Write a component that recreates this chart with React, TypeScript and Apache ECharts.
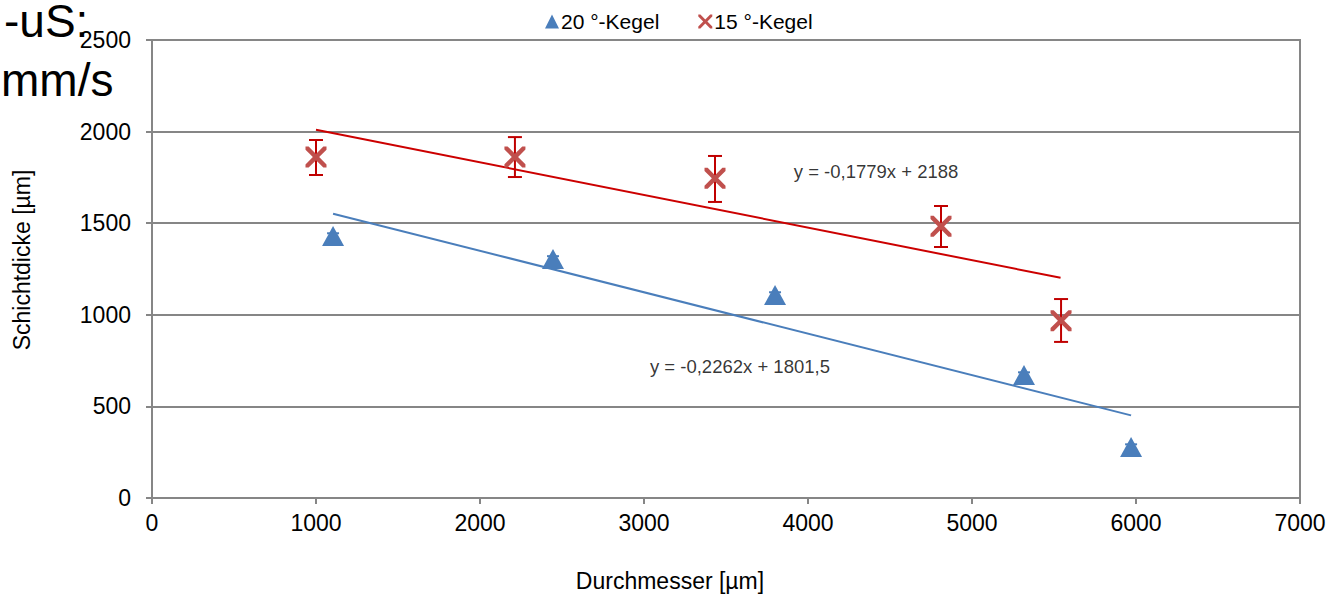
import React, { useEffect, useRef } from "react";
import * as echarts from "echarts";

const blueName = "20 °-Kegel";
const redName = "15 °-Kegel";

const blueX = [1104, 2445, 3799, 5317, 5970];
const blueY = [1430, 1305, 1108, 671, 278];
const blueErr = [15, 15, 15, 15, 15];

const redX = [1000, 2213, 3433, 4811, 5543];
const redY = [1861, 1862, 1745, 1483, 968];
const redLo = [1763, 1752, 1616, 1370, 852];
const redHi = [1954, 1970, 1867, 1594, 1086];

const blueTrend = [[1104, 1552], [5970, 451]];
const redTrend = [[1000, 2010], [5540, 1202]];

const blueEq = "y = -0,2262x + 1801,5";
const redEq = "y = -0,1779x + 2188";
const blueEqPos = [3585, 720];
const redEqPos = [4415, 1780];

const xTicks = [0, 7000, 1000];
const yTicks = [0, 2500, 500];

const BLUE = "#4A7EBB";
const RED = "#C0504D";
const RED_ERR = "#C00000";
const GRID = "#868686";
const FONT = "'Liberation Sans', Arial, sans-serif";
const XPATH =
  "path://M0,0 L3,0 L10,7 L17,0 L20,0 L20,3 L13,10 L20,17 L20,20 L17,20 L10,13 L3,20 L0,20 L0,17 L7,10 L0,3 Z";

function errRender(color: string, cap: number) {
  return (params: any, api: any) => {
    const x = api.value(0);
    const lo = api.coord([x, api.value(1)]);
    const hi = api.coord([x, api.value(2)]);
    const st = { stroke: color, lineWidth: 2 };
    return {
      type: "group",
      children: [
        { type: "line", shape: { x1: lo[0], y1: lo[1], x2: hi[0], y2: hi[1] }, style: st },
        { type: "line", shape: { x1: lo[0] - cap, y1: lo[1], x2: lo[0] + cap, y2: lo[1] }, style: st },
        { type: "line", shape: { x1: hi[0] - cap, y1: hi[1], x2: hi[0] + cap, y2: hi[1] }, style: st },
      ],
    };
  };
}

export default function App() {
  const ref = useRef<HTMLDivElement>(null);
  useEffect(() => {
    if (!ref.current) return;
    const chart = echarts.init(ref.current, null, { renderer: "svg" });
    const blueErrData = blueX.map((x, i) => [x, blueY[i] - blueErr[i], blueY[i] + blueErr[i]]);
    const redErrData = redX.map((x, i) => [x, redLo[i], redHi[i]]);
    chart.setOption({
      animation: false,
      textStyle: { fontFamily: FONT },
      grid: {
        left: 152,
        right: 32,
        top: 40,
        bottom: 99,
        show: true,
        borderColor: GRID,
        borderWidth: 2,
      },
      legend: {
        left: 540,
        top: 6,
        itemWidth: 14,
        itemHeight: 14,
        itemGap: 39,
        textStyle: { fontFamily: FONT, fontSize: 21, color: "#000", padding: [0, 0, 0, -3] },
        data: [
          { name: blueName, icon: "triangle", itemStyle: { color: BLUE } },
          { name: redName, icon: XPATH, itemStyle: { color: RED } },
        ],
      },
      xAxis: {
        type: "value",
        min: xTicks[0],
        max: xTicks[1],
        interval: xTicks[2],
        axisLine: { show: true, lineStyle: { color: GRID, width: 2 } },
        axisTick: { show: true, length: 6, inside: false, lineStyle: { color: GRID, width: 2 } },
        splitLine: { show: false },
        axisLabel: { fontFamily: FONT, fontSize: 23, color: "#000", margin: 13, formatter: (v: number) => String(v) },
      },
      yAxis: {
        type: "value",
        min: yTicks[0],
        max: yTicks[1],
        interval: yTicks[2],
        axisLine: { show: true, lineStyle: { color: GRID, width: 2 } },
        axisTick: { show: true, length: 6, inside: false, lineStyle: { color: GRID, width: 2 } },
        splitLine: { show: true, lineStyle: { color: GRID, width: 2 } },
        axisLabel: { fontFamily: FONT, fontSize: 23, color: "#000", margin: 21, formatter: (v: number) => String(v) },
      },
      graphic: [
        {
          type: "text",
          x: 670,
          y: 581,
          style: { text: "Durchmesser [µm]", font: `23px ${FONT}`, fill: "#000", textAlign: "center", textVerticalAlign: "middle" },
        },
        {
          type: "text",
          x: 22,
          y: 260,
          rotation: Math.PI / 2,
          style: { text: "Schichtdicke [µm]", font: `23px ${FONT}`, fill: "#000", textAlign: "center", textVerticalAlign: "middle" },
        },
        {
          type: "text",
          x: 4,
          y: 21,
          style: { text: "-uS:", font: `46px ${FONT}`, fill: "#000", textAlign: "left", textVerticalAlign: "middle" },
        },
        {
          type: "text",
          x: 1,
          y: 80,
          style: { text: "mm/s", font: `46px ${FONT}`, fill: "#000", textAlign: "left", textVerticalAlign: "middle" },
        },
      ],
      series: [
        {
          name: "redTrend",
          type: "line",
          data: redTrend,
          symbol: "none",
          lineStyle: { color: "#CC0000", width: 2 },
          silent: true,
          z: 3,
        },
        {
          name: "blueTrend",
          type: "line",
          data: blueTrend,
          symbol: "none",
          lineStyle: { color: BLUE, width: 2 },
          silent: true,
          z: 3,
        },
        {
          name: "blueErr",
          type: "custom",
          data: blueErrData,
          renderItem: errRender(BLUE, 6),
          z: 2,
        },
        {
          name: "redErr",
          type: "custom",
          data: redErrData,
          renderItem: errRender(RED_ERR, 7),
          z: 4,
        },
        {
          name: blueName,
          type: "scatter",
          data: blueX.map((x, i) => [x, blueY[i]]),
          symbol: "triangle",
          symbolSize: [22, 20],
          itemStyle: { color: BLUE, opacity: 1 },
          z: 5,
        },
        {
          name: redName,
          type: "scatter",
          data: redX.map((x, i) => [x, redY[i]]),
          symbol: XPATH,
          symbolSize: [21, 21],
          itemStyle: { color: RED, opacity: 1 },
          z: 5,
        },
        {
          name: "eqLabels",
          type: "scatter",
          data: [
            { value: blueEqPos, label: { formatter: blueEq } },
            { value: redEqPos, label: { formatter: redEq } },
          ],
          symbolSize: 0,
          silent: true,
          label: {
            show: true,
            position: "inside",
            fontFamily: FONT,
            fontSize: 18.5,
            color: "#000",
          },
          z: 6,
        },
      ],
    });
    return () => chart.dispose();
  }, []);
  return (
    <div
      ref={ref}
      style={{ position: "absolute", left: 0, top: 0, width: 1332, height: 597 }}
    />
  );
}
